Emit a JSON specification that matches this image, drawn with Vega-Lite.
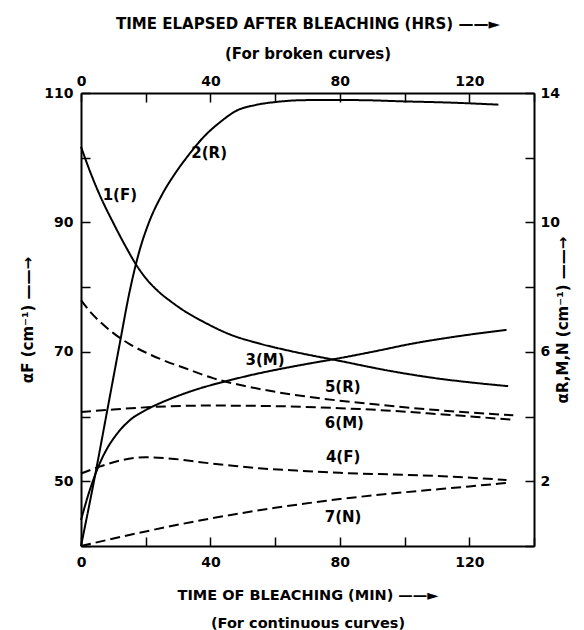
{
  "$schema": "https://vega.github.io/schema/vega-lite/v6.json",
  "width": 453,
  "height": 453,
  "autosize": "none",
  "padding": {"left": 81, "top": 93, "right": 50, "bottom": 84},
  "background": "white",
  "config": {
    "view": {"stroke": null},
    "font": "DejaVu Sans",
    "axis": {
      "grid": false,
      "domainColor": "black",
      "domainWidth": 2,
      "tickColor": "black",
      "tickWidth": 1.5,
      "tickSize": -9,
      "labelFont": "DejaVu Sans",
      "labelFontWeight": "bold",
      "labelFontSize": 14,
      "labelColor": "black",
      "labelFlush": false,
      "labelOverlap": false,
      "titleFont": "DejaVu Sans",
      "titleFontWeight": "bold",
      "titleFontSize": 14,
      "titleColor": "black"
    }
  },
  "datasets": {
    "fcurves": [
      {"curve": "1(F)", "kind": "continuous", "t": 0, "v": 101.7},
      {"curve": "1(F)", "kind": "continuous", "t": 3, "v": 97.6},
      {"curve": "1(F)", "kind": "continuous", "t": 6, "v": 94.0},
      {"curve": "1(F)", "kind": "continuous", "t": 10, "v": 89.9},
      {"curve": "1(F)", "kind": "continuous", "t": 14, "v": 86.1},
      {"curve": "1(F)", "kind": "continuous", "t": 17, "v": 83.5},
      {"curve": "1(F)", "kind": "continuous", "t": 20, "v": 81.4},
      {"curve": "1(F)", "kind": "continuous", "t": 24, "v": 79.3},
      {"curve": "1(F)", "kind": "continuous", "t": 28, "v": 77.7},
      {"curve": "1(F)", "kind": "continuous", "t": 32, "v": 76.3},
      {"curve": "1(F)", "kind": "continuous", "t": 38, "v": 74.6},
      {"curve": "1(F)", "kind": "continuous", "t": 46, "v": 72.7},
      {"curve": "1(F)", "kind": "continuous", "t": 55, "v": 71.3},
      {"curve": "1(F)", "kind": "continuous", "t": 65, "v": 70.1},
      {"curve": "1(F)", "kind": "continuous", "t": 80, "v": 68.6},
      {"curve": "1(F)", "kind": "continuous", "t": 95, "v": 67.1},
      {"curve": "1(F)", "kind": "continuous", "t": 110, "v": 65.9},
      {"curve": "1(F)", "kind": "continuous", "t": 120, "v": 65.3},
      {"curve": "1(F)", "kind": "continuous", "t": 132, "v": 64.7},
      {"curve": "4(F)", "kind": "broken", "t": 0, "v": 51.2},
      {"curve": "4(F)", "kind": "broken", "t": 6, "v": 52.3},
      {"curve": "4(F)", "kind": "broken", "t": 12, "v": 53.2},
      {"curve": "4(F)", "kind": "broken", "t": 20, "v": 53.7},
      {"curve": "4(F)", "kind": "broken", "t": 28, "v": 53.5},
      {"curve": "4(F)", "kind": "broken", "t": 36, "v": 53.0},
      {"curve": "4(F)", "kind": "broken", "t": 45, "v": 52.5},
      {"curve": "4(F)", "kind": "broken", "t": 55, "v": 52.0},
      {"curve": "4(F)", "kind": "broken", "t": 65, "v": 51.7},
      {"curve": "4(F)", "kind": "broken", "t": 80, "v": 51.3},
      {"curve": "4(F)", "kind": "broken", "t": 100, "v": 51.0},
      {"curve": "4(F)", "kind": "broken", "t": 115, "v": 50.7},
      {"curve": "4(F)", "kind": "broken", "t": 131.5, "v": 50.2}
    ],
    "flabels": [
      {"t": 12, "v": 94.2, "label": "1(F)"},
      {"t": 81, "v": 53.7, "label": "4(F)"}
    ],
    "rcurves": [
      {"curve": "2(R)", "kind": "continuous", "t": 0, "v": 0},
      {"curve": "2(R)", "kind": "continuous", "t": 4, "v": 2.0},
      {"curve": "2(R)", "kind": "continuous", "t": 8, "v": 4.13},
      {"curve": "2(R)", "kind": "continuous", "t": 12, "v": 6.27},
      {"curve": "2(R)", "kind": "continuous", "t": 15, "v": 7.85},
      {"curve": "2(R)", "kind": "continuous", "t": 18, "v": 9.1},
      {"curve": "2(R)", "kind": "continuous", "t": 21, "v": 10.0},
      {"curve": "2(R)", "kind": "continuous", "t": 25, "v": 10.85},
      {"curve": "2(R)", "kind": "continuous", "t": 29, "v": 11.5},
      {"curve": "2(R)", "kind": "continuous", "t": 33, "v": 12.05},
      {"curve": "2(R)", "kind": "continuous", "t": 38, "v": 12.65},
      {"curve": "2(R)", "kind": "continuous", "t": 43, "v": 13.1},
      {"curve": "2(R)", "kind": "continuous", "t": 48, "v": 13.45},
      {"curve": "2(R)", "kind": "continuous", "t": 54, "v": 13.63},
      {"curve": "2(R)", "kind": "continuous", "t": 60, "v": 13.72},
      {"curve": "2(R)", "kind": "continuous", "t": 70, "v": 13.78},
      {"curve": "2(R)", "kind": "continuous", "t": 85, "v": 13.78},
      {"curve": "2(R)", "kind": "continuous", "t": 100, "v": 13.74},
      {"curve": "2(R)", "kind": "continuous", "t": 115, "v": 13.7},
      {"curve": "2(R)", "kind": "continuous", "t": 129, "v": 13.64},
      {"curve": "3(M)", "kind": "continuous", "t": 0, "v": 0.8},
      {"curve": "3(M)", "kind": "continuous", "t": 2, "v": 1.5},
      {"curve": "3(M)", "kind": "continuous", "t": 4, "v": 2.1},
      {"curve": "3(M)", "kind": "continuous", "t": 6, "v": 2.6},
      {"curve": "3(M)", "kind": "continuous", "t": 8, "v": 3.0},
      {"curve": "3(M)", "kind": "continuous", "t": 11, "v": 3.45},
      {"curve": "3(M)", "kind": "continuous", "t": 15, "v": 3.88},
      {"curve": "3(M)", "kind": "continuous", "t": 20, "v": 4.2},
      {"curve": "3(M)", "kind": "continuous", "t": 25, "v": 4.44},
      {"curve": "3(M)", "kind": "continuous", "t": 30, "v": 4.64},
      {"curve": "3(M)", "kind": "continuous", "t": 37, "v": 4.88},
      {"curve": "3(M)", "kind": "continuous", "t": 44, "v": 5.07},
      {"curve": "3(M)", "kind": "continuous", "t": 52, "v": 5.27},
      {"curve": "3(M)", "kind": "continuous", "t": 61.5, "v": 5.47},
      {"curve": "3(M)", "kind": "continuous", "t": 70, "v": 5.63},
      {"curve": "3(M)", "kind": "continuous", "t": 78, "v": 5.77},
      {"curve": "3(M)", "kind": "continuous", "t": 90, "v": 6.0},
      {"curve": "3(M)", "kind": "continuous", "t": 102.7, "v": 6.26},
      {"curve": "3(M)", "kind": "continuous", "t": 115, "v": 6.46},
      {"curve": "3(M)", "kind": "continuous", "t": 131.5, "v": 6.68},
      {"curve": "5(R)", "kind": "broken", "t": 0, "v": 7.6},
      {"curve": "5(R)", "kind": "broken", "t": 3, "v": 7.22},
      {"curve": "5(R)", "kind": "broken", "t": 6, "v": 6.92},
      {"curve": "5(R)", "kind": "broken", "t": 10, "v": 6.58},
      {"curve": "5(R)", "kind": "broken", "t": 15, "v": 6.24},
      {"curve": "5(R)", "kind": "broken", "t": 20, "v": 5.98},
      {"curve": "5(R)", "kind": "broken", "t": 25, "v": 5.76},
      {"curve": "5(R)", "kind": "broken", "t": 32, "v": 5.5},
      {"curve": "5(R)", "kind": "broken", "t": 41, "v": 5.18},
      {"curve": "5(R)", "kind": "broken", "t": 50, "v": 4.96},
      {"curve": "5(R)", "kind": "broken", "t": 61.5, "v": 4.74},
      {"curve": "5(R)", "kind": "broken", "t": 75, "v": 4.55},
      {"curve": "5(R)", "kind": "broken", "t": 92.4, "v": 4.36},
      {"curve": "5(R)", "kind": "broken", "t": 110, "v": 4.2},
      {"curve": "5(R)", "kind": "broken", "t": 133.6, "v": 4.04},
      {"curve": "6(M)", "kind": "broken", "t": 0, "v": 4.14},
      {"curve": "6(M)", "kind": "broken", "t": 10, "v": 4.22},
      {"curve": "6(M)", "kind": "broken", "t": 23, "v": 4.3},
      {"curve": "6(M)", "kind": "broken", "t": 40, "v": 4.34},
      {"curve": "6(M)", "kind": "broken", "t": 61.5, "v": 4.32},
      {"curve": "6(M)", "kind": "broken", "t": 80, "v": 4.26},
      {"curve": "6(M)", "kind": "broken", "t": 92.4, "v": 4.2},
      {"curve": "6(M)", "kind": "broken", "t": 110, "v": 4.08},
      {"curve": "6(M)", "kind": "broken", "t": 133.6, "v": 3.9},
      {"curve": "7(N)", "kind": "broken", "t": 0, "v": 0},
      {"curve": "7(N)", "kind": "broken", "t": 20, "v": 0.45},
      {"curve": "7(N)", "kind": "broken", "t": 40, "v": 0.85},
      {"curve": "7(N)", "kind": "broken", "t": 60, "v": 1.18},
      {"curve": "7(N)", "kind": "broken", "t": 80, "v": 1.45},
      {"curve": "7(N)", "kind": "broken", "t": 100, "v": 1.66},
      {"curve": "7(N)", "kind": "broken", "t": 120, "v": 1.84},
      {"curve": "7(N)", "kind": "broken", "t": 131.5, "v": 1.95}
    ],
    "rlabels": [
      {"t": 39.6, "v": 12.16, "label": "2(R)"},
      {"t": 56.9, "v": 5.74, "label": "3(M)"},
      {"t": 80.9, "v": 4.92, "label": "5(R)"},
      {"t": 81.4, "v": 3.79, "label": "6(M)"},
      {"t": 81, "v": 0.9, "label": "7(N)"}
    ]
  },
  "layer": [
    {
      "encoding": {
        "x": {
          "field": "t", "type": "quantitative",
          "scale": {"domain": [0, 140], "nice": false, "zero": false},
          "axis": {
            "orient": "bottom",
            "values": [0, 20, 40, 60, 80, 100, 120, 140],
            "labelExpr": "datum.value % 40 == 0 && datum.value < 140 ? datum.label : ''",
            "labelPadding": 18,
            "title": ["TIME OF BLEACHING (MIN) ——►", "(For continuous curves)"],
            "titleFontSize": 14.5,
            "titleLineHeight": 28,
            "titlePadding": 19
          }
        },
        "y": {
          "field": "v", "type": "quantitative",
          "scale": {"domain": [40, 110], "nice": false, "zero": false},
          "axis": {
            "orient": "left",
            "values": [40, 50, 60, 70, 80, 90, 100, 110],
            "labelExpr": "datum.value % 20 == 10 ? datum.label : ''",
            "labelPadding": 17,
            "title": "αF (cm⁻¹) ——→",
            "titleFontSize": 15,
            "titlePadding": 8
          }
        }
      },
      "layer": [
        {
          "data": {"name": "fcurves"},
          "mark": {"type": "line", "interpolate": "monotone", "color": "black", "strokeWidth": 2},
          "encoding": {
            "detail": {"field": "curve"},
            "strokeDash": {
              "field": "kind", "type": "nominal",
              "scale": {"domain": ["continuous", "broken"], "range": [[1, 0], [10, 5]]},
              "legend": null
            }
          }
        },
        {
          "data": {"name": "flabels"},
          "mark": {"type": "text", "font": "DejaVu Sans", "fontWeight": "bold", "fontSize": 15, "color": "black", "align": "center", "baseline": "middle"},
          "encoding": {"text": {"field": "label"}}
        }
      ]
    },
    {
      "encoding": {
        "x": {
          "field": "t", "type": "quantitative",
          "scale": {"domain": [0, 140], "nice": false, "zero": false},
          "axis": {
            "orient": "top",
            "values": [0, 20, 40, 60, 80, 100, 120, 140],
            "labelExpr": "datum.value % 40 == 0 && datum.value < 140 ? datum.label : ''",
            "labelPadding": 14,
            "title": ["TIME ELAPSED AFTER BLEACHING (HRS) ——►", "(For broken curves)"],
            "titleFontSize": 15,
            "titleLineHeight": 30,
            "titlePadding": 13
          }
        },
        "y": {
          "field": "v", "type": "quantitative",
          "scale": {"domain": [0, 14], "nice": false, "zero": false},
          "axis": {
            "orient": "right",
            "values": [0, 2, 4, 6, 8, 10, 12, 14],
            "labelExpr": "datum.value % 4 == 2 ? datum.label : ''",
            "labelPadding": 15,
            "title": "αR,M,N (cm⁻¹) ——→",
            "titleFontSize": 15,
            "titleAngle": 270,
            "titlePadding": 11
          }
        }
      },
      "layer": [
        {
          "data": {"name": "rcurves"},
          "mark": {"type": "line", "interpolate": "monotone", "color": "black", "strokeWidth": 2},
          "encoding": {
            "detail": {"field": "curve"},
            "strokeDash": {
              "field": "kind", "type": "nominal",
              "scale": {"domain": ["continuous", "broken"], "range": [[1, 0], [10, 5]]},
              "legend": null
            }
          }
        },
        {
          "data": {"name": "rlabels"},
          "mark": {"type": "text", "font": "DejaVu Sans", "fontWeight": "bold", "fontSize": 15, "color": "black", "align": "center", "baseline": "middle"},
          "encoding": {"text": {"field": "label"}}
        }
      ]
    }
  ],
  "resolve": {
    "scale": {"y": "independent", "strokeDash": "shared"},
    "axis": {"x": "independent", "y": "independent"}
  }
}
